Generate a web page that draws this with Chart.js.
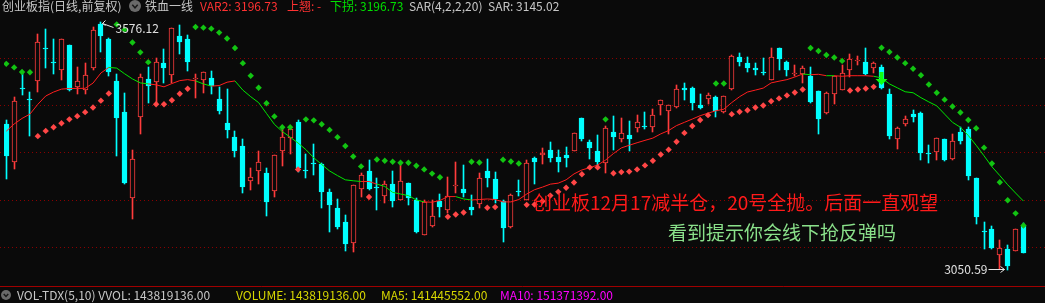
<!DOCTYPE html>
<html>
<head>
<meta charset="utf-8">
<script src="https://cdn.jsdelivr.net/npm/chart.js@4.4.1/dist/chart.umd.min.js"></script>
<style>
  html, body { margin: 0; padding: 0; background: #0a0a0a; overflow: hidden; }
  #wrap { width: 1045px; height: 303px; }
</style>
</head>
<body>
<div id="wrap"><canvas id="c" width="1045" height="303"></canvas></div>
<script>
// ---------------- DATA ----------------
const opens = [3359.7,3278.4,3435.5,3413.1,3451.3,3518.0,3491.6,3474.2,3525.6,3436.7,
3430.5,3477.7,3571.5,3538.1,3450.6,3384.0,3203.4,3374.9,3454.8,3447.9,
3489.5,3462.4,3545.8,3540.2,3454.8,3453.4,3456.9,3413.1,3361.1,3331.9,
3313.1,3239.5,3260.4,3256.9,3218.7,3302.0,3329.8,3363.1,3261.0,3277.7,
3274.9,3215.2,3182.6,3152.7,3108.3,3222.9,3261.1,3226.3,3207.6,3232.6,
3199.3,3234.0,3199.3,3125.0,3144.4,3197.9,3177.0,3229.5,3221.5,3184.0,
3189.5,3261.1,3243.7,3196.5,3140.9,3217.3,3199.9,3288.1,3293.7,3305.5,
3288.8,3293.7,3303.4,3371.5,3321.5,3302.7,3276.3,3342.3,3328.4,3336.7,
3350.6,3354.8,3352.7,3399.2,3386.7,3395.1,3436.1,3436.1,3400.6,3411.8,
3417.3,3384.0,3432.6,3500.6,3488.1,3477.7,3468.0,3453.4,3519.4,3491.6,
3465.2,3465.9,3460.4,3429.1,3382.6,3422.2,3431.2,3472.9,3492.5,3491.6,
3478.4,3479.8,3422.2,3328.4,3359.7,3379.8,3382.6,3296.5,3300.6,3327.7,
3284.7,3342.3,3348.6,3245.1,3133.3,3138.1,3083.3,3096.5,3092.3,3144.4];

const highs = [3368.7,3417.3,3467.3,3427.7,3550.6,3561.1,3540.2,3539.0,3526.5,3479.8,
3488.1,3564.5,3576.12,3542.3,3465.2,3424.3,3305.5,3465.9,3479.8,3498.6,
3517.3,3563.0,3569.4,3547.9,3465.2,3469.5,3470.8,3438.1,3434.0,3345.8,
3327.0,3267.3,3302.0,3267.3,3294.5,3349.2,3352.7,3368.7,3297.2,3316.6,
3276.3,3222.9,3201.3,3167.3,3230.5,3255.5,3284.0,3245.1,3239.5,3261.1,
3274.3,3235.4,3203.4,3198.6,3198.6,3211.8,3248.6,3279.8,3272.9,3210.4,
3256.9,3286.1,3259.0,3199.9,3211.8,3240.2,3283.3,3288.8,3309.0,3321.5,
3304.8,3311.1,3341.0,3372.2,3326.3,3336.1,3356.2,3375.6,3371.5,3365.2,
3378.4,3384.0,3390.9,3411.0,3400.5,3443.0,3446.5,3436.8,3423.6,3425.6,
3418.0,3419.4,3504.8,3509.0,3500.6,3489.5,3499.9,3519.4,3520.1,3492.3,
3484.7,3481.2,3479.8,3429.8,3426.3,3461.1,3484.7,3506.9,3503.4,3519.4,
3490.2,3484.7,3434.0,3352.7,3377.0,3389.5,3384.0,3315.9,3329.8,3328.4,
3338.1,3352.7,3352.7,3245.8,3152.0,3143.7,3114.5,3104.1,3138.1,3150.0];

const lows = [3243.0,3264.5,3420.1,3334.7,3427.0,3477.7,3465.2,3453.4,3429.1,3422.2,
3422.2,3472.9,3512.4,3460.4,3292.3,3233.5,3159.7,3338.8,3403.4,3401.3,
3446.5,3446.5,3507.6,3470.8,3413.8,3424.3,3423.6,3380.5,3329.8,3288.8,
3213.8,3220.8,3232.6,3165.9,3205.5,3271.5,3297.2,3259.0,3245.1,3252.0,
3182.6,3130.5,3137.4,3090.9,3088.8,3205.5,3219.4,3177.0,3193.0,3184.7,
3198.6,3188.1,3129.8,3124.3,3142.3,3163.8,3172.2,3213.8,3205.5,3168.0,
3182.6,3225.6,3193.0,3109.7,3140.2,3206.9,3198.6,3232.6,3274.3,3278.4,
3259.0,3269.4,3302.7,3323.6,3284.7,3269.4,3255.5,3305.5,3321.5,3302.7,
3342.3,3349.2,3343.7,3378.4,3338.8,3394.4,3409.7,3389.5,3390.9,3401.3,
3373.6,3383.3,3431.2,3482.6,3469.4,3462.4,3462.4,3452.7,3474.2,3460.4,
3460.4,3446.5,3403.4,3338.8,3380.5,3401.3,3430.5,3459.0,3484.7,3463.1,
3467.3,3434.0,3328.4,3307.6,3355.5,3363.1,3282.6,3276.3,3283.3,3282.0,
3284.0,3316.6,3241.6,3147.9,3095.1,3095.1,3053.0,3050.59,3091.6,3086.0];

const closes = [3292.3,3408.3,3434.5,3409.7,3533.3,3517.0,3488.1,3538.1,3431.2,3449.9,
3463.1,3559.0,3545.1,3469.4,3371.5,3234.7,3285.4,3459.0,3440.9,3491.6,
3477.7,3562.4,3531.9,3490.2,3456.2,3468.7,3440.9,3386.1,3347.2,3303.4,
3226.3,3248.6,3279.8,3195.1,3293.7,3331.9,3349.2,3265.9,3260.0,3274.3,
3215.9,3188.1,3140.9,3105.5,3229.8,3252.0,3222.2,3225.3,3233.3,3196.5,
3238.2,3203.4,3130.5,3194.4,3165.2,3184.0,3208.3,3230.5,3213.1,3177.7,
3246.5,3245.1,3201.3,3140.2,3210.4,3216.3,3277.7,3278.4,3298.6,3286.8,
3279.8,3286.8,3340.2,3328.4,3309.0,3279.8,3350.6,3331.9,3339.5,3328.4,
3363.1,3353.8,3379.1,3410.4,3399.9,3434.0,3430.5,3403.4,3393.7,3421.5,
3386.1,3418.7,3504.1,3491.6,3477.7,3472.9,3467.0,3502.0,3497.2,3474.2,
3466.2,3477.7,3406.2,3370.1,3425.6,3460.4,3467.3,3496.5,3493.5,3465.9,
3489.5,3434.7,3334.0,3350.6,3369.4,3373.6,3299.2,3295.5,3329.1,3282.6,
3322.9,3324.2,3250.6,3163.8,3132.3,3098.6,3097.9,3059.7,3137.4,3086.8];

// 铁血一线 (VAR2)
const var2 = [3344.4,3359.6,3371.4,3380.4,3401.2,3418.7,3427.1,3433.3,3434.6,3434.8,
3435.0,3446.0,3467.3,3479.1,3477.7,3465.8,3454.8,3446.4,3444.3,3442.3,
3438.1,3445.0,3451.2,3453.3,3450.6,3444.3,3439.6,3440.8,3447.9,3450.6,
3431.2,3417.3,3404.8,3381.9,3358.9,3343.7,3331.9,3319.4,3305.4,3288.1,
3274.1,3260.4,3250.6,3241.6,3239.6,3238.1,3238.1,3232.5,3227.7,3215.2,
3211.6,3208.3,3199.1,3195.0,3194.3,3197.9,3206.2,3206.2,3201.2,3199.1,
3200.0,3201.2,3200.0,3195.0,3195.0,3200.0,3211.6,3220.8,3226.2,3232.5,
3234.6,3241.6,3254.1,3262.5,3267.3,3272.9,3283.3,3297.1,3309.0,3314.6,
3320.0,3325.0,3329.8,3338.7,3345.8,3356.2,3363.1,3370.0,3377.1,3382.5,
3387.5,3390.8,3404.8,3417.3,3427.1,3431.2,3435.4,3446.4,3450.0,3453.3,
3458.9,3465.2,3463.7,3464.6,3461.6,3461.6,3460.4,3461.6,3461.6,3461.6,
3460.4,3456.9,3444.3,3436.0,3427.7,3425.6,3415.2,3406.2,3397.9,3380.4,
3363.1,3352.7,3335.4,3314.6,3292.3,3269.3,3250.6,3231.2,3213.7,3196.73];
// R = 上翘 (red), G = 下拐 (green): colour of the segment ending at each bar
const var2Trend = "RRRRRRRRRRRRRR" + "GGGGG" + "RRRRRR" + "GG" + "RRR" + "GGGGGGGGGGGGGGGG" +
  "RR" + "GGGGGG" + "RRRR" + "GG" + "RRRRRRRRRRRRRRRRRRRRRRRRRRRRRRRRRRRRRRRRRR" +
  "G" + "RR" + "G" + "RRRRR" + "GGGGGGGGGGGGGGGGGGG";

// SAR(4,2,2,20)
const sar = [3486.6,3479.1,3469.4,3469.0,3333.9,3345.0,3352.7,3361.0,3369.4,3376.2,
3384.6,3394.4,3408.9,3424.1,3570.0,3558.9,3531.9,3511.0,3490.2,3401.2,
3401.2,3409.6,3423.5,3433.9,3564.6,3563.1,3561.0,3552.7,3540.2,3520.0,
3488.1,3461.6,3436.0,3403.3,3375.6,3352.7,3352.7,3263.7,3369.4,3367.3,
3358.9,3347.1,3331.8,3313.1,3290.8,3270.0,3205.4,3284.6,3281.9,3279.8,
3277.7,3277.7,3271.4,3263.7,3254.8,3247.1,3163.7,3168.3,3172.5,3279.8,
3278.3,3182.5,3184.0,3283.9,3280.2,3276.2,3188.7,3189.6,3196.4,3208.3,
3216.2,3225.0,3236.0,3253.3,3267.9,3267.9,3369.4,3255.4,3257.9,3259.0,
3263.7,3272.1,3281.9,3295.0,3305.4,3322.1,3340.8,3355.4,3367.9,3378.3,
3445.0,3445.0,3380.4,3385.4,3388.7,3394.4,3398.5,3407.5,3413.7,3420.0,
3426.2,3432.5,3520.0,3513.7,3505.4,3500.0,3492.9,3430.4,3432.5,3434.6,
3438.1,3520.8,3511.6,3500.0,3488.1,3476.2,3462.5,3442.9,3425.6,3411.0,
3396.4,3383.9,3367.9,3350.6,3309.6,3276.2,3236.6,3198.5,3170.8,3145.02];
// R = below price (red dot), G = above price (green dot)
const sarSide = "GGGG" + "RRRRRRRRRR" + "GGGGG" + "RRRRR" + "GGGGGGGGGGGGG" + "R" + "GGGGGGGG" + "R" +
  "GGGGGGGGG" + "RRR" + "GG" + "RR" + "GGG" + "RRRRRRRRRR" + "G" + "RRRRRRRRRRRRR" + "GG" +
  "RRRRRRRRRR" + "GGGGG" + "RRRR" + "GGGGGGGGGGGGGGGGGGG";

const gridLevels = [3100, 3200, 3300, 3400, 3500];
const sellSignals = [111];
const highLabel = "3576.12";
const lowLabel = "3050.59";

const topLegend = [
  { t: "创业板指(日线,前复权)", c: "#c8c8c8", x: 2 },
  { t: "铁血一线", c: "#c8c8c8", x: 145 },
  { t: "VAR2: 3196.73", c: "#ff3232", x: 200 },
  { t: "上翘: -", c: "#ff3232", x: 287 },
  { t: "下拐: 3196.73", c: "#00e000", x: 330 },
  { t: "SAR(4,2,2,20)", c: "#c8c8c8", x: 409 },
  { t: "SAR: 3145.02", c: "#c8c8c8", x: 488 }
];
const volLegend = [
  { t: "VOL-TDX(5,10) VVOL: 143819136.00", c: "#c8c8c8", x: 17 },
  { t: "VOLUME: 143819136.00", c: "#d8d800", x: 236 },
  { t: "MA5: 141445552.00", c: "#d8d800", x: 381 },
  { t: "MA10: 151371392.00", c: "#ff00ff", x: 500 }
];
const note1 = "创业板12月17减半仓，20号全抛。后面一直观望";
const note2 = "看到提示你会线下抢反弹吗";

// ---------------- STYLE ----------------
const BG = "#0a0a0a";
const UP = "#ff3c3c";
const DOWN = "#00ffff";
const LINE_RED = "#ff1e1e";
const LINE_GREEN = "#00e600";
const FONT = '"Noto Sans CJK SC", "Noto Sans", sans-serif';

const N = closes.length;
const idx = Array.from({ length: N }, (_, i) => i);
const isUp = i => closes[i] >= opens[i];
const step = 7.946;
const xMin = -2.3 / step;
const xMax = xMin + 1045 / step;

const bgPlugin = {
  id: "bg",
  beforeDraw(chart) {
    const ctx = chart.ctx;
    ctx.save();
    ctx.fillStyle = BG;
    ctx.fillRect(0, 0, chart.width, chart.height);
    ctx.restore();
  },
  beforeDatasetsDraw(chart) {
    const ctx = chart.ctx, y = chart.scales.y, a = chart.chartArea;
    ctx.save();
    ctx.strokeStyle = "#8a0000";
    ctx.lineWidth = 1;
    ctx.setLineDash([1, 3]);
    gridLevels.forEach(v => {
      const py = Math.round(y.getPixelForValue(v)) + 0.5;
      ctx.beginPath(); ctx.moveTo(0, py); ctx.lineTo(chart.width, py); ctx.stroke();
    });
    ctx.setLineDash([]);
    ctx.strokeStyle = "#a00000";
    ctx.beginPath(); ctx.moveTo(0, a.bottom + 0.5); ctx.lineTo(chart.width, a.bottom + 0.5); ctx.stroke();
    ctx.restore();
  }
};

// snap library-computed bar rectangles to whole pixels so candles are crisp
const snapPlugin = {
  id: "snap",
  afterDatasetsUpdate(chart) {
    chart.data.datasets.forEach((ds, di) => {
      if (ds.type !== "bar") return;
      chart.getDatasetMeta(di).data.forEach(el => {
        el.x = Math.floor(el.x) + 0.5;
        el.y = Math.round(el.y);
        el.base = Math.round(el.base);
      });
    });
  }
};

function circleIcon(ctx, cx, cy, r) {
  ctx.fillStyle = "#6a6a6a";
  ctx.beginPath(); ctx.arc(cx, cy, r, 0, Math.PI * 2); ctx.fill();
  ctx.strokeStyle = "#1a1a1a";
  ctx.lineWidth = 1.5;
  ctx.beginPath(); ctx.moveTo(cx - r * 0.45, cy - r * 0.2); ctx.lineTo(cx, cy + r * 0.3); ctx.lineTo(cx + r * 0.45, cy - r * 0.2); ctx.stroke();
}

const overlayPlugin = {
  id: "overlay",
  afterDatasetsDraw(chart) {
    const ctx = chart.ctx, xs = chart.scales.x, ys = chart.scales.y;
    ctx.save();
    // sell arrows
    sellSignals.forEach(i => {
      const px = Math.floor(xs.getPixelForValue(i)) + 0.5;
      const tip = Math.round(ys.getPixelForValue(var2[i])) + 7;
      ctx.fillStyle = "#10ff10";
      ctx.fillRect(px - 2, tip - 13, 4, 8);
      ctx.beginPath(); ctx.moveTo(px - 6, tip - 6); ctx.lineTo(px + 6, tip - 6); ctx.lineTo(px, tip); ctx.closePath(); ctx.fill();
    });
    // high label
    let hi = 0, lo = 0;
    for (let i = 1; i < N; i++) { if (highs[i] > highs[hi]) hi = i; if (lows[i] < lows[lo]) lo = i; }
    const hx = Math.floor(xs.getPixelForValue(hi)) + 0.5, hy = Math.round(ys.getPixelForValue(highs[hi])) + 0.5;
    ctx.strokeStyle = "#e6e6e6"; ctx.lineWidth = 1;
    ctx.beginPath(); ctx.moveTo(hx + 2, hy + 1); ctx.lineTo(hx + 13, hy + 5); ctx.stroke();
    ctx.beginPath(); ctx.moveTo(hx + 5, hy - 2); ctx.lineTo(hx + 2, hy + 1); ctx.lineTo(hx + 5, hy + 3); ctx.stroke();
    ctx.font = "12px " + FONT; ctx.fillStyle = "#e0e0e0"; ctx.textBaseline = "middle"; ctx.textAlign = "left";
    ctx.fillText(highLabel, hx + 15, hy + 6);
    // low label
    const lx = Math.floor(xs.getPixelForValue(lo)) + 0.5, ly = Math.round(ys.getPixelForValue(lows[lo])) - 0.5;
    ctx.beginPath(); ctx.moveTo(lx - 19, ly); ctx.lineTo(lx - 3, ly); ctx.stroke();
    ctx.beginPath(); ctx.moveTo(lx - 7, ly - 3); ctx.lineTo(lx - 3, ly); ctx.lineTo(lx - 7, ly + 3); ctx.stroke();
    ctx.textAlign = "right";
    ctx.fillText(lowLabel, lx - 20, ly - 0.5);
    ctx.restore();
  },
  afterDraw(chart) {
    const ctx = chart.ctx;
    ctx.save();
    ctx.textBaseline = "middle"; ctx.textAlign = "left";
    ctx.font = "19px " + FONT;
    ctx.fillStyle = "#ff1a1a";
    ctx.fillText(note1, 533, 203);
    ctx.fillStyle = "#8ae08a";
    ctx.fillText(note2, 668, 233);
    ctx.font = "12px " + FONT;
    topLegend.forEach(l => { ctx.fillStyle = l.c; ctx.fillText(l.t, l.x, 6); });
    circleIcon(ctx, 135, 6, 6);
    volLegend.forEach(l => { ctx.fillStyle = l.c; ctx.fillText(l.t, l.x, 295); });
    circleIcon(ctx, 6, 295, 5);
    ctx.restore();
  }
};

new Chart(document.getElementById("c"), {
  data: {
    datasets: [
      {
        type: "bar", label: "wick",
        data: idx.map(i => ({ x: i, y: [lows[i], highs[i]] })),
        backgroundColor: idx.map(i => isUp(i) ? UP : DOWN),
        borderWidth: 0, barThickness: 1, grouped: false, order: 3
      },
      {
        type: "bar", label: "body",
        data: idx.map(i => ({ x: i, y: [opens[i], closes[i]] })),
        backgroundColor: idx.map(i => isUp(i) ? BG : DOWN),
        borderColor: idx.map(i => isUp(i) ? UP : DOWN),
        borderWidth: 1, borderSkipped: false, barThickness: 5, minBarLength: 1,
        grouped: false, order: 2
      },
      {
        type: "line", label: "VAR2",
        data: idx.map(i => ({ x: i, y: var2[i] })),
        borderWidth: 1, pointRadius: 0, tension: 0,
        borderColor: LINE_RED,
        segment: { borderColor: c => var2Trend[c.p1DataIndex] === "R" ? LINE_RED : LINE_GREEN },
        order: 1
      },
      {
        type: "line", label: "SAR up",
        data: idx.map(i => ({ x: i, y: sarSide[i] === "R" ? sar[i] : null })),
        showLine: false, pointStyle: "rectRot", pointRadius: 3.2,
        pointBackgroundColor: "#ff4646", pointBorderWidth: 0, order: 0
      },
      {
        type: "line", label: "SAR down",
        data: idx.map(i => ({ x: i, y: sarSide[i] === "G" ? sar[i] : null })),
        showLine: false, pointStyle: "rectRot", pointRadius: 3.2,
        pointBackgroundColor: "#12c412", pointBorderWidth: 0, order: 0
      }
    ]
  },
  options: {
    responsive: false, devicePixelRatio: 1, animation: false,
    layout: { padding: { left: 0, right: 0, top: 0, bottom: 17 } },
    plugins: { legend: { display: false }, tooltip: { enabled: false } },
    scales: {
      x: { type: "linear", min: xMin, max: xMax, offset: false, display: false },
      y: { type: "linear", min: 3017.3, max: 3613.1, display: false }
    }
  },
  plugins: [bgPlugin, snapPlugin, overlayPlugin]
});
</script>
</body>
</html>
